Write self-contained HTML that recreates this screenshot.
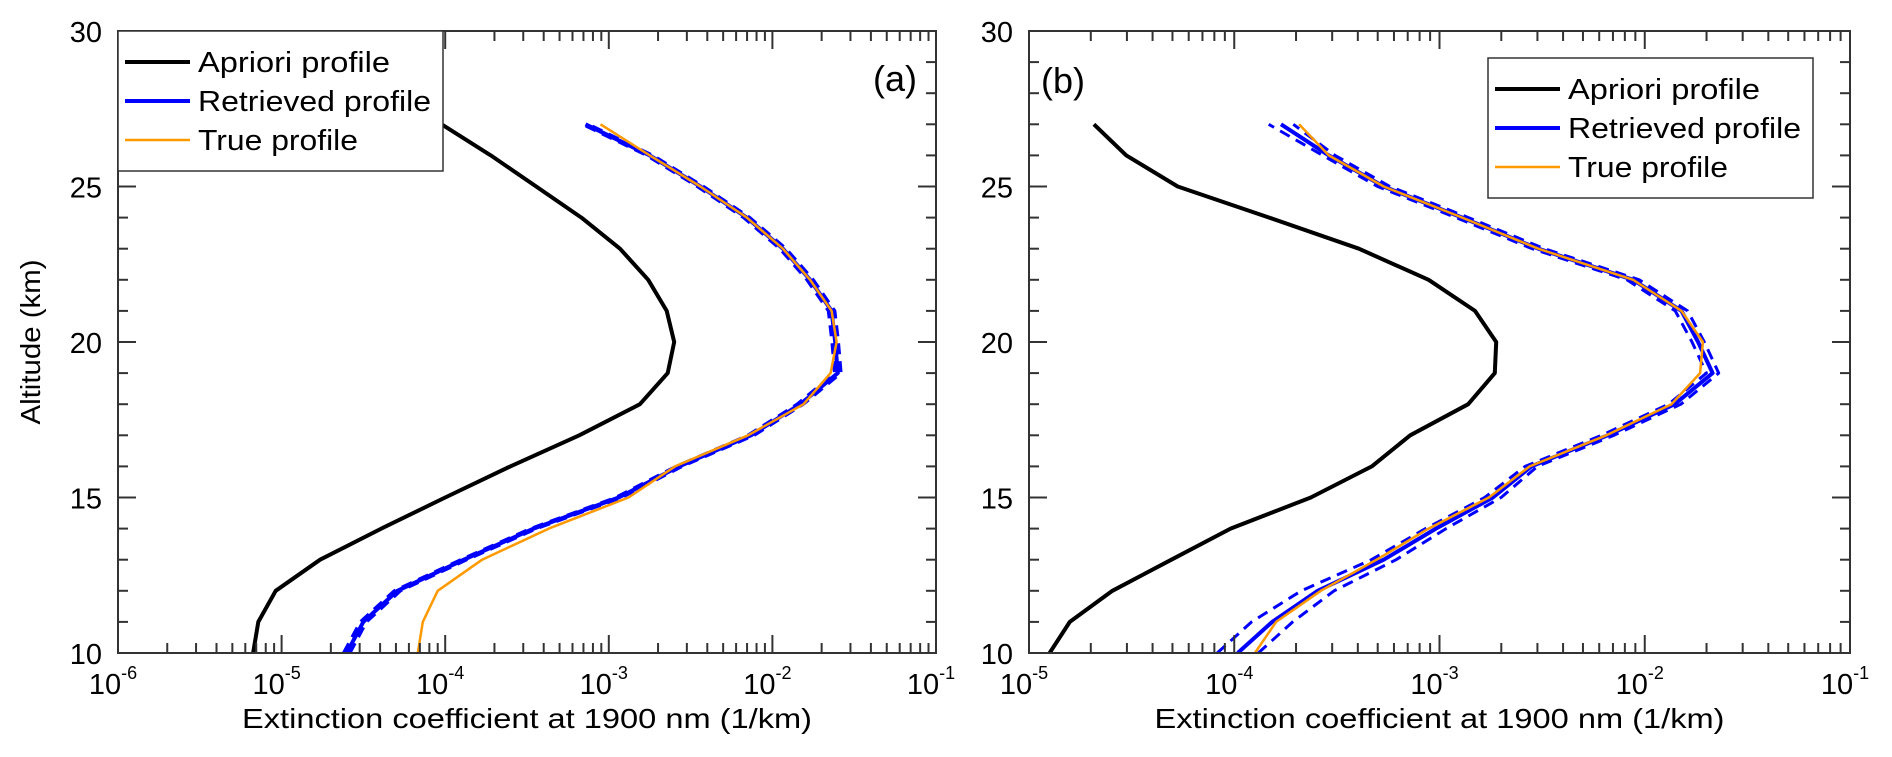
<!DOCTYPE html>
<html><head><meta charset="utf-8"><style>
html,body{margin:0;padding:0;background:#fff;}
svg{display:block;font-family:"Liberation Sans",Arial,sans-serif;}
</style></head><body>
<svg id="chart" width="1892" height="757" viewBox="0 0 1892 757" xmlns="http://www.w3.org/2000/svg"></svg>
<script>
const altitudes = [10,11,12,13,14,15,16,17,18,19,20,21,22,23,24,25,26,27];
const aprioriA = [6.7e-6,7.2e-6,9.2e-6,1.72e-5,4.07e-5,1.0e-4,2.5e-4,6.6e-4,1.55e-3,2.29e-3,2.51e-3,2.26e-3,1.74e-3,1.17e-3,6.8e-4,3.6e-4,1.9e-4,9.5e-5];
const retrievedA = [2.5e-5,3.16e-5,5.1e-5,1.3e-4,3.47e-4,1.15e-3,2.69e-3,7.4e-3,1.48e-2,2.51e-2,2.42e-2,2.3e-2,1.7e-2,1.16e-2,6.97e-3,3.63e-3,1.78e-3,7.2e-4];
const trueA = [6.8e-5,7.3e-5,9.0e-5,1.68e-4,4.3e-4,1.32e-3,2.54e-3,7.1e-3,1.55e-2,2.27e-2,2.47e-2,2.3e-2,1.7e-2,1.16e-2,6.97e-3,3.63e-3,1.78e-3,8.9e-4];
const spreadA = [0.02,0.02,0.02,0.02,0.02,0.02,0.02,0.02,0.02,0.02,0.02,0.02,0.02,0.02,0.02,0.02,0.02,0.02];
const aprioriB = [1.26e-5,1.58e-5,2.55e-5,4.94e-5,9.6e-5,2.36e-4,4.68e-4,7.2e-4,1.38e-3,1.86e-3,1.89e-3,1.49e-3,8.85e-4,4.05e-4,1.48e-4,5.3e-5,2.98e-5,2.07e-5];
const retrievedB = [1.04e-4,1.53e-4,2.55e-4,5.35e-4,9.6e-4,1.82e-3,2.8e-3,6.6e-3,1.4e-2,2.14e-2,1.82e-2,1.51e-2,8.77e-3,3.03e-3,1.29e-3,5.35e-4,2.89e-4,1.69e-4];
const trueB = [1.26e-4,1.6e-4,2.64e-4,4.94e-4,8.85e-4,1.74e-3,2.75e-3,6.5e-3,1.35e-2,1.86e-2,1.92e-2,1.51e-2,8.77e-3,3.03e-3,1.29e-3,5.35e-4,2.89e-4,2.07e-4];
const spreadB = [0.10,0.10,0.08,0.06,0.05,0.04,0.03,0.03,0.03,0.03,0.03,0.03,0.03,0.03,0.03,0.03,0.03,0.06];
const yTicks = [10,15,20,25,30];

const NS = "http://www.w3.org/2000/svg";
const svg = document.getElementById("chart");
function mk(tag, attrs, parent){const e=document.createElementNS(NS,tag);for(const k in attrs)e.setAttribute(k,attrs[k]);(parent||svg).appendChild(e);return e;}

function panel(cfg){
  const g = mk("g",{});
  
  
  const L=cfg.left,R=cfg.right,T=31,B=653;
  const dec=(R-L)/(cfg.maxExp-cfg.minExp);
  const xs=v=>L+(Math.log10(v)-cfg.minExp)*dec;
  const ys=h=>B-(h-10)*(B-T)/20;
  const clip=mk("clipPath",{id:"clip"+cfg.id},g);
  mk("rect",{x:L,y:T,width:R-L,height:B-T},clip);
  const sg=mk("g",{"clip-path":"url(#clip"+cfg.id+")"},g);
  function s(vals,shift,name,color,w,dash){
    const pts=altitudes.map((h,i)=>{const v=vals[i]*Math.pow(10,shift?shift[i]:0);return xs(v).toFixed(1)+","+ys(h).toFixed(1);}).join(" ");
    const p=mk("polyline",{points:pts,fill:"none",stroke:color,"stroke-width":w,"stroke-linejoin":"round"},sg);
    if(dash)p.setAttribute("stroke-dasharray",dash);
    
    
  }
  s(cfg.apriori,null,"apriori-profile-line","#000",4);
  s(cfg.retrieved,cfg.spread.map(x=>-x),"retrieved-lower-bound-dashed","#0000ff",3,"11,7");
  s(cfg.retrieved,cfg.spread,"retrieved-upper-bound-dashed","#0000ff",3,"11,7");
  s(cfg.retrieved,null,"retrieved-profile-line","#0000ff",4);
  s(cfg.truth,null,"true-profile-line","#ff9900",2.5);
  const ax=mk("rect",{x:L,y:T,width:R-L,height:B-T,fill:"none",stroke:"#333","stroke-width":2},g);
  
  
  for(let e=cfg.minExp;e<=cfg.maxExp;e++){
    for(let m=1;m<=9;m++){
      if(e===cfg.maxExp&&m>1)break;
      const x=L+(e-cfg.minExp+Math.log10(m))*dec;
      const len=m===1?18:10;
      mk("line",{x1:x,y1:B,x2:x,y2:B-len,stroke:"#333","stroke-width":2},g);
      mk("line",{x1:x,y1:T,x2:x,y2:T+len,stroke:"#333","stroke-width":2},g);
    }
    const t=mk("text",{x:xs(Math.pow(10,e))-5,y:694,"font-size":29,"text-anchor":"middle",fill:"#000"},g);
    t.textContent="10";
    const sup=mk("tspan",{dy:-15,"font-size":18},t);
    sup.textContent=String(e);
    
    
  }
  for(let h=10;h<=30;h++){
    const y=ys(h);const len=h%5===0?18:10;
    mk("line",{x1:L,y1:y,x2:L+len,y2:y,stroke:"#333","stroke-width":2},g);
    mk("line",{x1:R,y1:y,x2:R-len,y2:y,stroke:"#333","stroke-width":2},g);
  }
  yTicks.forEach(h=>{
    const t=mk("text",{x:L-16,y:ys(h)+11,"font-size":29,"text-anchor":"end",fill:"#000"},g);
    t.textContent=String(h);
    
    
  });
  const xl=mk("text",{x:(L+R)/2,y:728,"font-size":28,"text-anchor":"middle",textLength:570,lengthAdjust:"spacingAndGlyphs",fill:"#000"},g);
  xl.textContent="Extinction coefficient at 1900 nm (1/km)";
  
  
  const pl=mk("text",{x:cfg.labelX,y:cfg.labelY,"font-size":36,"text-anchor":cfg.labelAnchor,fill:"#000"},g);
  pl.textContent=cfg.label;
  
  
  const lg=mk("g",{},g);
  
  
  const lx=cfg.legX,ly=cfg.legY;
  mk("rect",{x:lx,y:ly,width:325,height:140,fill:"#fff",stroke:"#333","stroke-width":1.5},lg);
  const ent=[["Apriori profile","#000",4,192],["Retrieved profile","#0000ff",4,233],["True profile","#ff9900",2.5,160]];
  ent.forEach((en,i)=>{
    const cy=ly+31+i*39;
    const eg=mk("g",{},lg);
    
    
    mk("line",{x1:lx+7,y1:cy,x2:lx+72,y2:cy,stroke:en[1],"stroke-width":en[2]},eg);
    const t=mk("text",{x:lx+80,y:cy+10,"font-size":29,fill:"#000",textLength:en[3],lengthAdjust:"spacingAndGlyphs"},eg);
    t.textContent=en[0];
  });
}

panel({id:"a",name:"panel-a",left:118,right:936,minExp:-6,maxExp:-1,apriori:aprioriA,retrieved:retrievedA,truth:trueA,spread:spreadA,label:"(a)",labelX:917,labelY:91,labelAnchor:"end",legX:118,legY:31});
panel({id:"b",name:"panel-b",left:1029,right:1850,minExp:-5,maxExp:-1,apriori:aprioriB,retrieved:retrievedB,truth:trueB,spread:spreadB,label:"(b)",labelX:1041,labelY:93,labelAnchor:"start",legX:1488,legY:58});

const yl=mk("text",{x:0,y:0,"font-size":28,"text-anchor":"middle",textLength:165,lengthAdjust:"spacingAndGlyphs",transform:"translate(40,342) rotate(-90)",fill:"#000"});
yl.textContent="Altitude (km)";


</script>
</body></html>
